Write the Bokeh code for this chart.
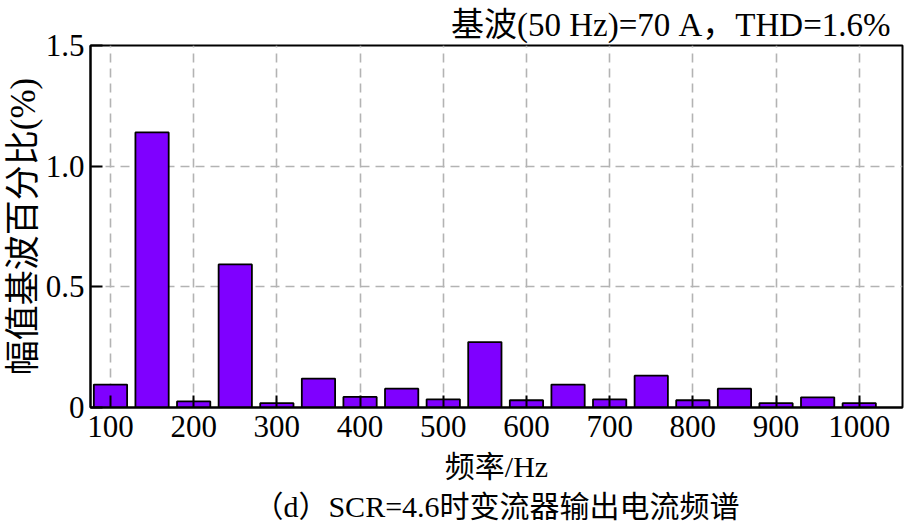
from bokeh.plotting import figure
from bokeh.models import FixedTicker, CustomJSTickFormatter, Title
from bokeh.embed import file_html
from bokeh.resources import INLINE

# data
freqs = [100, 150, 200, 250, 300, 350, 400, 450, 500, 550,
         600, 650, 700, 750, 800, 850, 900, 950, 1000]
values = [0.095, 1.14, 0.025, 0.593, 0.018, 0.12, 0.044, 0.078, 0.034, 0.271,
          0.03, 0.095, 0.034, 0.132, 0.03, 0.078, 0.018, 0.042, 0.018]
x_ticks = [100, 200, 300, 400, 500, 600, 700, 800, 900, 1000]
y_ticks = [0, 0.5, 1.0, 1.5]
title_text = "基波(50 Hz)=70 A，THD=1.6%"
x_label = "频率/Hz"
y_label = "幅值基波百分比(%)"
caption = "（d）SCR=4.6时变流器输出电流频谱"

FONT = "Liberation Serif, Noto Sans CJK SC"

p = figure(width=904, height=526, x_range=(76, 1052), y_range=(0, 1.5),
           output_backend="svg", toolbar_location=None,
           min_border_left=90, min_border_right=2, min_border_top=45,
           min_border_bottom=119)
p.background_fill_color = "white"
p.border_fill_color = "white"
p.outline_line_color = "black"
p.outline_line_width = 2
p.outline_line_alpha = 1

p.vbar(x=freqs, top=values, width=40, bottom=0,
       fill_color="#7F00FF", line_color="black", line_width=1.8)

for ax in (p.xaxis[0], p.yaxis[0]):
    ax.axis_line_width = 2
    ax.axis_line_color = "black"
    ax.major_tick_in = 12
    ax.major_tick_out = 0
    ax.major_tick_line_width = 2
    ax.major_tick_line_color = "black"
    ax.minor_tick_line_color = None
    ax.major_label_text_font = FONT
    ax.major_label_text_font_size = "31px"
    ax.major_label_text_color = "black"
    ax.axis_label_text_font = FONT
    ax.axis_label_text_font_style = "normal"
    ax.axis_label_text_color = "black"

p.xaxis.major_label_standoff = 8
p.yaxis.major_label_standoff = 6

p.xaxis.ticker = FixedTicker(ticks=x_ticks)
p.yaxis.ticker = FixedTicker(ticks=y_ticks)
p.yaxis.formatter = CustomJSTickFormatter(code="return tick == 0 ? '0' : tick.toFixed(1);")

p.xaxis.axis_label = x_label
p.xaxis.axis_label_text_font_size = "30px"
p.xaxis.axis_label_standoff = 10
p.yaxis.axis_label = y_label
p.yaxis.axis_label_text_font_size = "35px"
p.yaxis.axis_label_standoff = 0

p.xgrid.ticker = FixedTicker(ticks=x_ticks)
p.ygrid.ticker = FixedTicker(ticks=y_ticks)
for g in (p.xgrid[0], p.ygrid[0]):
    g.grid_line_color = "#b3b3b3"
    g.grid_line_width = 1.6
    g.grid_line_dash = "9 6"

top_title = Title(text=title_text, align="right", offset=12, standoff=5,
                  text_font=FONT, text_font_size="33px",
                  text_font_style="normal", text_color="black")
p.add_layout(top_title, "above")

cap = Title(text=caption, align="center", offset=6, standoff=4,
            text_font=FONT, text_font_size="30px",
            text_font_style="normal", text_color="black")
p.add_layout(cap, "below")

open("out.html", "w").write(file_html(p, INLINE))
